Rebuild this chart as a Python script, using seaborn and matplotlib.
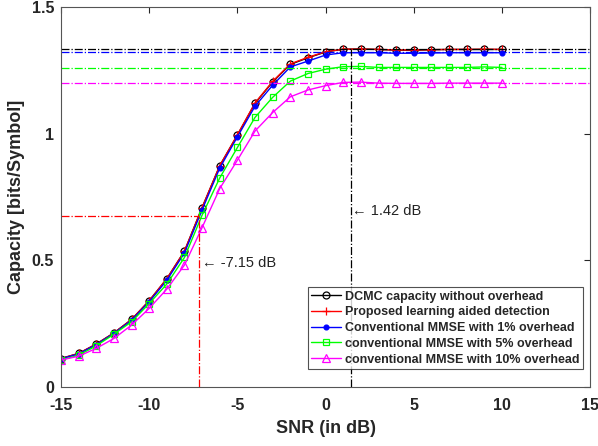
import matplotlib
matplotlib.use('Agg')
import matplotlib.pyplot as plt
import seaborn as sns
import pandas as pd

# SNR grid
snr = list(range(-15, 11))

# capacity curves
dcmc = [0.113, 0.133, 0.170, 0.214, 0.267, 0.341, 0.428, 0.537, 0.709, 0.874,
        0.995, 1.120, 1.205, 1.274, 1.300, 1.323, 1.334, 1.335, 1.333, 1.330,
        1.330, 1.332, 1.333, 1.333, 1.333, 1.333]
proposed = [0.113, 0.133, 0.170, 0.214, 0.267, 0.341, 0.428, 0.537, 0.709, 0.874,
            0.996, 1.122, 1.207, 1.276, 1.302, 1.324, 1.334, 1.334, 1.333, 1.331,
            1.331, 1.332, 1.333, 1.333, 1.334, 1.333]
mmse1 = [0.112, 0.131, 0.168, 0.212, 0.264, 0.337, 0.422, 0.530, 0.700, 0.865,
         0.988, 1.109, 1.192, 1.264, 1.287, 1.311, 1.320, 1.320, 1.320, 1.318,
         1.318, 1.319, 1.320, 1.320, 1.320, 1.320]
mmse5 = [0.107, 0.126, 0.163, 0.209, 0.258, 0.330, 0.407, 0.512, 0.679, 0.826,
         0.946, 1.065, 1.144, 1.208, 1.238, 1.255, 1.265, 1.266, 1.262, 1.262,
         1.262, 1.262, 1.262, 1.262, 1.264, 1.262]
mmse10 = [0.107, 0.122, 0.153, 0.192, 0.245, 0.311, 0.387, 0.482, 0.630, 0.784,
          0.896, 1.011, 1.084, 1.146, 1.173, 1.190, 1.203, 1.204, 1.200, 1.199,
          1.199, 1.199, 1.200, 1.200, 1.200, 1.200]

labels = ['DCMC capacity without overhead',
          'Proposed learning aided detection',
          'Conventional MMSE with 1% overhead',
          'conventional MMSE with 5% overhead',
          'conventional MMSE with 10% overhead']
colors = ['black', 'red', 'blue', '#00ff00', 'magenta']
asymptotes = [1.334, 1.322, 1.322, 1.259, 1.200]

# threshold points
thr_snr = [-7.15, 1.42]
thr_cap = [0.675, 1.334]

sns.set_style('white')
plt.rcParams['font.family'] = ['Liberation Sans', 'DejaVu Sans']
plt.rcParams['axes.unicode_minus'] = False

fig = plt.figure(figsize=(5.98, 4.46), dpi=100)
ax = fig.add_axes([0.102, 0.132, 0.885, 0.852])

series = [dcmc, proposed, mmse1, mmse5, mmse10]
markers = ['o', '+', '.', 's', '^']
fills = ['none', None, None, 'none', 'none']
msizes = [5, 6, 7, 4.5, 5.5]

for y, lab, c, m, f, ms in zip(series, labels, colors, markers, fills, msizes):
    df = pd.DataFrame({'snr': snr, 'cap': y})
    kw = dict(marker=m, markersize=ms, markeredgecolor=c, markeredgewidth=0.9)
    kw['markerfacecolor'] = f if f is not None else c
    sns.lineplot(data=df, x='snr', y='cap', color=c, linewidth=1.0, label=lab,
                 ax=ax, **kw)

# horizontal asymptotes
for a, c in zip(asymptotes, colors):
    if c == 'red':
        continue
    ax.axhline(a, color=c, linestyle='-.', linewidth=0.9)

# threshold guides
ax.plot([-15, thr_snr[0]], [thr_cap[0], thr_cap[0]], color='red', linestyle='-.', linewidth=0.9)
ax.plot([thr_snr[0], thr_snr[0]], [0, thr_cap[0]], color='red', linestyle='-.', linewidth=0.9)
ax.plot([thr_snr[1], thr_snr[1]], [0, thr_cap[1]], color='black', linestyle='-.', linewidth=0.9)

ax.text(-6.98, 0.49, '\u2190 -7.15 dB', fontsize=10.5, color='#222222', va='center')
ax.text(1.48, 0.695, '\u2190 1.42 dB', fontsize=10.5, color='#222222', va='center')

ax.set_xlim(-15, 15)
ax.set_ylim(0, 1.5)
ax.set_xticks([-15, -10, -5, 0, 5, 10, 15])
ax.set_yticks([0, 0.5, 1, 1.5])
ax.set_yticklabels(['0', '0.5', '1', '1.5'])
ax.tick_params(direction='in', top=True, right=True, length=4, width=0.8,
               labelsize=11.5, colors='#262626')
ax.tick_params(axis='x', pad=8)
ax.tick_params(axis='y', pad=5)
for lbl in ax.get_xticklabels() + ax.get_yticklabels():
    lbl.set_fontweight('bold')
for s in ax.spines.values():
    s.set_color('#555555')
    s.set_linewidth(0.8)

ax.set_xlabel('SNR (in dB)', fontsize=13, fontweight='bold', color='#262626', labelpad=5)
ax.set_ylabel('Capacity [bits/Symbol]', fontsize=13, fontweight='bold', color='#262626', labelpad=5)

leg = ax.legend(loc='lower right', bbox_to_anchor=(0.987, 0.047), borderaxespad=0,
                frameon=True, fancybox=False, borderpad=0.3, labelspacing=0.3,
                handlelength=2.4, handletextpad=0.3,
                prop={'weight': 'bold', 'size': 9})
leg.get_frame().set_edgecolor('#262626')
leg.get_frame().set_linewidth(0.8)

fig.savefig('out.png', dpi=100)
